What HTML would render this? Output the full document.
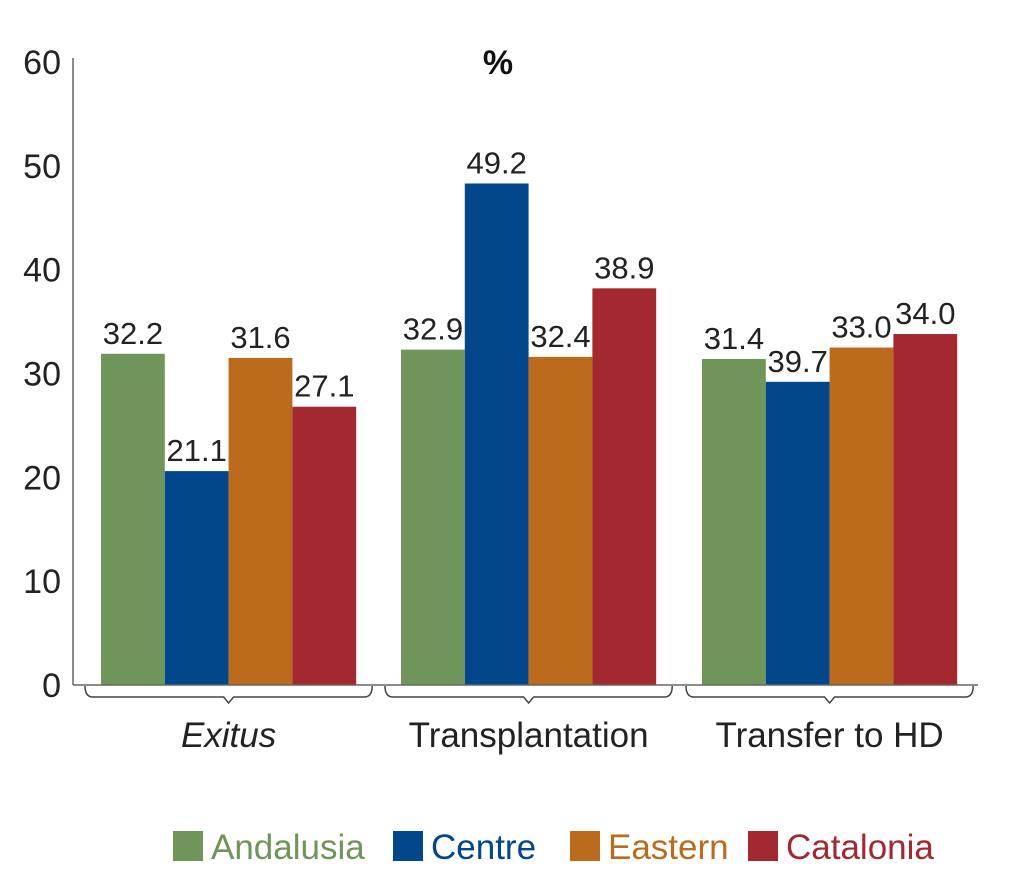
<!DOCTYPE html>
<html><head><meta charset="utf-8"><style>
body{margin:0;background:#fff;}
svg text{font-family:"Liberation Sans",sans-serif;}
</style></head><body>
<svg id="chart" width="1011" height="889" xmlns="http://www.w3.org/2000/svg"></svg>
<script>
const categories = ["Exitus", "Transplantation", "Transfer to HD"];
const seriesNames = ["Andalusia", "Centre", "Eastern", "Catalonia"];
const andalusia = [31.9, 32.3, 31.4];
const centre = [20.6, 48.3, 29.2];
const eastern = [31.5, 31.6, 32.5];
const catalonia = [26.8, 38.2, 33.8];
const andalusiaLabels = ["32.2", "32.9", "31.4"];
const centreLabels = ["21.1", "49.2", "39.7"];
const easternLabels = ["31.6", "32.4", "33.0"];
const cataloniaLabels = ["27.1", "38.9", "34.0"];
const yTicks = [0, 10, 20, 30, 40, 50, 60];

const colors = ["#6f955a", "#02468c", "#bc6a1b", "#a3282f"];
const series = [andalusia, centre, eastern, catalonia];
const labels = [andalusiaLabels, centreLabels, easternLabels, cataloniaLabels];
const svg = document.getElementById('chart');
const NS = "http://www.w3.org/2000/svg";
function el(tag, attrs, parent) {
  const e = document.createElementNS(NS, tag);
  for (const k in attrs) e.setAttribute(k, attrs[k]);
  (parent || svg).appendChild(e);
  return e;
}
const y0 = 685, yTop = 62, yMax = 60;
const y = v => y0 - v / yMax * (y0 - yTop);
const groupStart = [101, 401, 702];
const bw = 63.8;
const x = (g, s) => groupStart[g] + s * bw;

const ya = el('line', {x1: 73, y1: 58, x2: 73, y2: 685, stroke: '#666', 'stroke-width': 1.5});


yTicks.forEach(t => {
  const tx = el('text', {x: 61, y: y(t) + 12, 'text-anchor': 'end', 'font-size': 34, fill: '#222'});
  tx.textContent = t;
  
  
});
const unit = el('text', {x: 498, y: 74, 'text-anchor': 'middle', 'font-size': 34, 'font-weight': 'bold', fill: '#111'});
unit.textContent = '%';



categories.forEach((c, g) => {
  series.forEach((sv, s) => {
    const r = el('rect', {x: x(g, s), y: y(sv[g]), width: bw, height: y0 - y(sv[g]), fill: colors[s]});
    
    
    const t = el('text', {x: x(g, s) + bw / 2, y: y(sv[g]) - 10, 'text-anchor': 'middle', 'font-size': 31, fill: '#222'});
    t.textContent = labels[s][g];
    
    
  });
  const gx0 = groupStart[g] - 16, gx1 = groupStart[g] + 4 * bw + 16, cx = groupStart[g] + 2 * bw;
  const b = el('path', {d: `M${gx0} 686 Q${gx0} 697 ${gx0 + 8} 697 L${cx - 5} 697 L${cx} 703 L${cx + 5} 697 L${gx1 - 8} 697 Q${gx1} 697 ${gx1} 686`, fill: 'none', stroke: '#444', 'stroke-width': 1.5});
  
  
  const ct = el('text', {x: cx, y: 747, 'text-anchor': 'middle', 'font-size': 35, fill: '#222', 'font-style': g === 0 ? 'italic' : 'normal'});
  ct.textContent = c;
  
  
});
const xa = el('line', {x1: 73, y1: 685, x2: 978, y2: 685, stroke: '#666', 'stroke-width': 1.5});



const legX = [173, 393, 570, 748];
seriesNames.forEach((n, i) => {
  const r = el('rect', {x: legX[i], y: 831, width: 30, height: 30, fill: colors[i]});
  
  
  const t = el('text', {x: legX[i] + 38, y: 859, 'font-size': 35, fill: colors[i]});
  t.textContent = n;
  
  
});
</script>
</body></html>
